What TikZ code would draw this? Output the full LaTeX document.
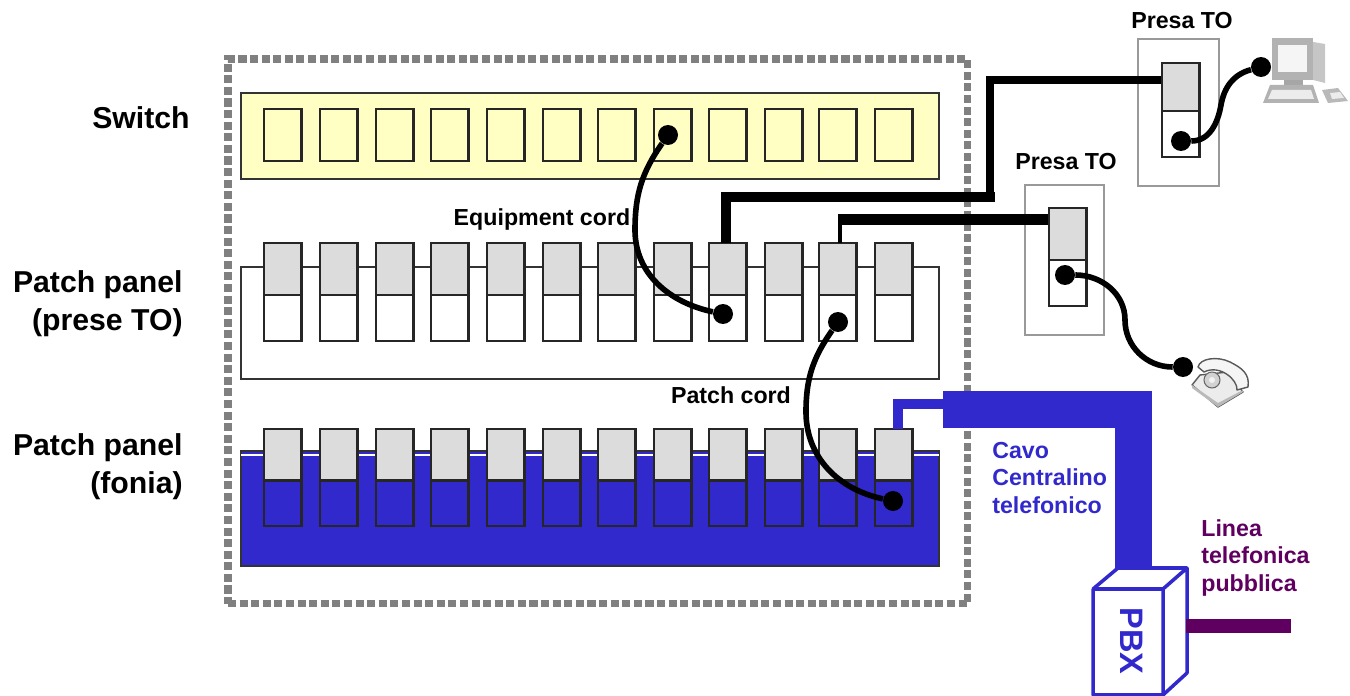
\documentclass[tikz,border=0pt]{standalone}
\usepackage{fontspec}
\setmainfont{Liberation Sans}
\usepackage{xcolor}
\usepackage{tikz}
\definecolor{switchfill}{RGB}{255,255,196}
\definecolor{portgray}{RGB}{220,220,220}
\definecolor{pbxblue}{RGB}{49,41,204}
\definecolor{linepurple}{RGB}{95,0,96}
\definecolor{framegray}{RGB}{128,128,128}
\tikzset{
  panel/.style={draw=black!80,line width=1.3pt,inner sep=0pt,outer sep=0pt,anchor=north west},
  port/.style={draw=black!85,line width=1.4pt,inner sep=0pt,outer sep=0pt,anchor=north west,minimum width=0.75cm},
  swport/.style={port,minimum height=1.04cm},
  topport/.style={port,fill=portgray,minimum height=1.04cm},
  lowport/.style={port,minimum height=0.92cm},
  wallbox/.style={draw=gray!80,line width=1.2pt,inner sep=0pt,outer sep=0pt,anchor=north west},
  plug/.style={circle,fill=black,inner sep=0pt,minimum size=0.4cm},
  cord/.style={line width=3.2pt,black},
  cable/.style={black,line cap=rect},
  bigcaption/.style={font=\fontsize{17.2}{21.6}\selectfont\bfseries,align=right,anchor=east,inner sep=0pt},
  smallcaption/.style={font=\fontsize{13.2}{15.6}\selectfont\bfseries,align=left,inner sep=0pt}
}
\begin{document}
\begin{tikzpicture}[x=0.02cm,y=-0.02cm]
  \useasboundingbox (0,0) rectangle (1350,696);

  % frame and panels
  \node[draw=framegray,line width=4pt,dash pattern=on 4.6pt off 2pt,minimum width=14.8cm,minimum height=10.9cm,anchor=north west,inner sep=0pt,outer sep=0pt] (rack) at (228,59) {};
  \node[panel,fill=switchfill,minimum width=13.96cm,minimum height=1.72cm] (swpanel) at (241,93) {};
  \node[panel,fill=white,minimum width=13.96cm,minimum height=2.24cm] (topanel) at (241,267) {};
  \node[panel,fill=pbxblue,minimum width=13.96cm,minimum height=2.3cm] (fopanel) at (241,451) {};
  \draw[white,line width=0.8pt] (fopanel.north west)++(0,4) -- ++(698,0);

  \foreach \i/\x in {1/264,2/320,3/376,4/431,5/487,6/543,7/598,8/654,9/709,10/765,11/819,12/875}{
    \node[swport] (sw\i) at (\x,109) {};
    \node[topport] (tp\i) at (\x,243) {};
    \node[lowport,fill=white] (tb\i) at (\x,295) {};
    \node[topport] (fp\i) at (\x,429) {};
    \node[lowport] (fb\i) at (\x,480) {};
  }

  % wall outlets
  \node[wallbox,minimum width=1.62cm,minimum height=2.94cm] (boxa) at (1138,39) {};
  \node[topport] (outa) at (1162,63) {};
  \node[lowport,fill=white] (outb) at (1162,111) {};
  \node[wallbox,minimum width=1.58cm,minimum height=3cm] (boxb) at (1025,185) {};
  \node[topport] (outc) at (1049,208) {};
  \node[lowport,fill=white] (outd) at (1049,260) {};

  % fixed cables
  \coordinate (cablea) at (1157,80);
  \coordinate (benda) at (990,80);
  \coordinate (bendb) at (990,197);
  \coordinate (bendc) at (726,197);
  \coordinate (stuba) at (726,238);
  \coordinate (cableb) at (1043,219.5);
  \coordinate (bendd) at (843.5,219.5);
  \coordinate (bende) at (840,219.5);
  \coordinate (stubb) at (840,243);
  \draw[cable,line width=4.6pt] (cablea) -- (benda);
  \draw[cable,line width=4.6pt] (benda) -- (bendb);
  \draw[cable,line width=5.7pt] (bendb) -- (bendc);
  \draw[cable,line width=5.7pt] (bendc) -- (stuba);
  \draw[cable,line width=6.2pt] (cableb) -- (bendd);
  \draw[line width=2.8pt,black] (bende) -- (stubb);

  % pbx
  \node[font=\fontsize{18.5}{20}\selectfont\bfseries,text=pbxblue,rotate=-90,inner sep=0pt] (pbxlabel) at (1132,641) {PBX};
  \coordinate (trunka) at (1133.5,568);
  \coordinate (trunkb) at (1133.5,409.5);
  \coordinate (trunkc) at (943,409.5);
  \coordinate (thina) at (943,404);
  \coordinate (thinb) at (898,404);
  \coordinate (thinc) at (898,429);
  \draw[line width=21.6pt,pbxblue,line join=miter] (trunka) -- (trunkb) -- (trunkc);
  \draw[line width=5.7pt,pbxblue] (thina) -- (thinb) -- (thinc);
  \coordinate (pbxa) at (1093,589);
  \coordinate (pbxb) at (1163,589);
  \coordinate (pbxc) at (1163,695);
  \coordinate (pbxd) at (1093,695);
  \coordinate (pbxe) at (1118,568);
  \coordinate (pbxf) at (1187,568);
  \coordinate (pbxg) at (1187,673);
  \draw[pbxblue,line width=2pt,line join=round] (pbxa) -- (pbxb) -- (pbxc) -- (pbxd) -- cycle (pbxa) -- (pbxe) -- (pbxf) -- (pbxb) (pbxf) -- (pbxg) -- (pbxc);
  \coordinate (linea) at (1186,626);
  \coordinate (lineb) at (1291,626);
  \draw[line width=8pt,linepurple] (linea) -- (lineb);

  % computer
  \fill[gray!45] (1313,42) -- (1325,44) -- (1325,83) -- (1313,80) -- cycle;
  \fill[gray!60] (1272,38) rectangle (1313,80);
  \fill[white!92!gray] (1278,45) rectangle (1307,72);
  \fill[gray!70] (1284,80) rectangle (1303,86);
  \fill[gray!60] (1270,85) -- (1313,85) -- (1319,103) -- (1263,103) -- cycle;
  \fill[gray!15] (1272,90) -- (1311,90) -- (1314,99) -- (1268,99) -- cycle;
  \fill[gray!55] (1322,90) -- (1338,88) -- (1348,101) -- (1328,103) -- cycle;
  \fill[gray!15] (1330,93) -- (1340,92) -- (1344,98) -- (1332,99) -- cycle;

  % telephone
  \draw[black!65,fill=gray!15,line width=0.8pt,line join=round] (1192,385) -- (1200,375) -- (1228,372) -- (1243,392) -- (1218,407) -- cycle;
  \fill[gray!55] (1192,385) -- (1218,403) -- (1243,390) -- (1243,392) -- (1218,407) -- (1192,388) -- cycle;
  \draw[black!65,fill=gray!8,line width=0.8pt,line join=round] (1198,367) .. controls (1200,358) and (1218,356) .. (1230,362) .. controls (1242,368) and (1250,374) .. (1248,387) -- (1237,390) .. controls (1238,380) and (1220,364) .. (1204,372) -- cycle;
  \draw[black!60,fill=gray!35,line width=0.6pt] (1212,380) circle (8);
  \fill[gray!10] (1212,380) circle (3);

  % cords
  \node[plug] (swplug) at (668,135) {};
  \node[plug] (eqplug) at (723,314) {};
  \node[plug] (toplug) at (838,322) {};
  \node[plug] (foplug) at (893,501) {};
  \node[plug] (pcplug) at (1181,141) {};
  \node[plug] (cpuplug) at (1261,67) {};
  \node[plug] (telplug) at (1065,275) {};
  \node[plug] (phoneplug) at (1183,367) {};
  \coordinate (eqbend) at (635,230);
  \coordinate (pcbend) at (806,412);
  \coordinate (cpubend) at (1221,105);
  \coordinate (cordmid) at (1125,320);
  \draw[cord] (swplug) to[out=235,in=90] (eqbend) to[out=-90,in=168] (eqplug);
  \draw[cord] (toplug) to[out=235,in=90] (pcbend) to[out=-90,in=168] (foplug);
  \draw[cord] (pcplug) to[out=0,in=-100] (cpubend) to[out=80,in=195] (cpuplug);
  \draw[cord] (telplug) to[out=0,in=90] (cordmid) to[out=-90,in=180] (phoneplug);

  % captions
  \node[bigcaption] (swlabel) at (190,118) {Switch};
  \node[bigcaption] (tolabel) at (183,304) {Patch panel\\(prese TO)};
  \node[bigcaption] (folabel) at (183,467) {Patch panel\\(fonia)};
  \node[smallcaption] (eqlabel) at (542,220) {Equipment cord};
  \node[smallcaption] (pclabel) at (731,395) {Patch cord};
  \node[smallcaption] (presaa) at (1182,21) {Presa TO};
  \node[smallcaption] (presab) at (1066,162) {Presa TO};
  \node[smallcaption,text=pbxblue,anchor=west] (cavolabel) at (992,478) {Cavo\\Centralino\\telefonico};
  \node[smallcaption,text=linepurple,anchor=west] (linealabel) at (1201,558) {Linea\\telefonica\\pubblica};
\end{tikzpicture}
\end{document}
